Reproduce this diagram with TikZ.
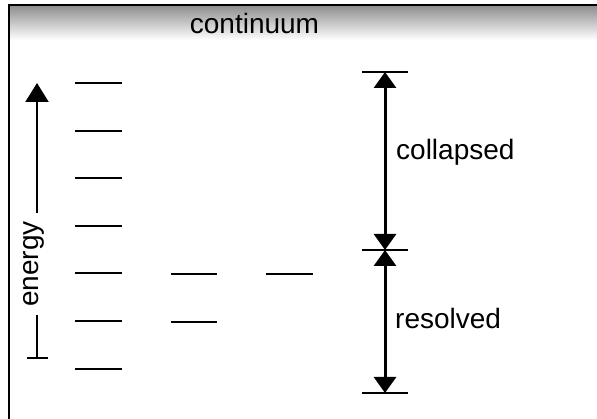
\documentclass[tikz,border=0pt]{standalone}
\usepackage{fontspec}
\setmainfont{Liberation Sans}
\usetikzlibrary{arrows.meta}
\begin{document}
\begin{tikzpicture}[x=1pt,y=-1pt,
  lbl/.style={font=\fontsize{28}{30}\selectfont, inner sep=0pt},
  level/.style={line width=2.6pt},
  bar/.style={line width=2.6pt},
  dimarrow/.style={line width=3pt, {Triangle[width=22pt,length=16pt]}-{Triangle[width=22pt,length=16pt]}},
  axisline/.style={line width=2.2pt},
]
\useasboundingbox (0,0) rectangle (597,419);
% continuum band
\shade[top color=black!45, bottom color=white] (9,5) rectangle (597,40);
\node[lbl, anchor=base] (cont) at (254.5,33.5) {continuum};
% energy axis
\coordinate (eb) at (37,358);
\coordinate (et) at (37,83);
\draw[axisline, -{Triangle[width=23pt,length=19pt]}] (eb) -- (et);
\draw[axisline] (27,358) -- (48,358);
\node[lbl, rotate=90, anchor=base, fill=white, inner xsep=8pt, inner ysep=1pt] (en) at (38,264) {energy};
% frame
\draw[line width=2pt] (9,419) -- (9,5) -- (597,5);
% levels, left column
\foreach \y/\n in {83/a,131/b,178/c,226/d,273/e,321/f,369/g}
  \draw[level] (75,\y) coordinate (L\n1) -- (122,\y) coordinate (L\n2);
% middle column
\foreach \y/\n in {274/a,322/b}
  \draw[level] (171,\y) coordinate (M\n1) -- (217,\y) coordinate (M\n2);
% right column
\draw[level] (266,274) coordinate (Ra1) -- (313,274) coordinate (Ra2);
% dimension bars
\foreach \y/\n in {72/1,250/2,393/3}{
  \draw[bar] (362,\y) -- (408,\y);
  \coordinate (D\n) at (385,\y);
}
\draw[dimarrow] (D1) -- (D2);
\draw[dimarrow] (D2) -- (D3);
\node[lbl, anchor=base west] (col) at (396,160) {collapsed};
\node[lbl, anchor=base west] (res) at (395,329) {resolved};
\end{tikzpicture}
\end{document}
